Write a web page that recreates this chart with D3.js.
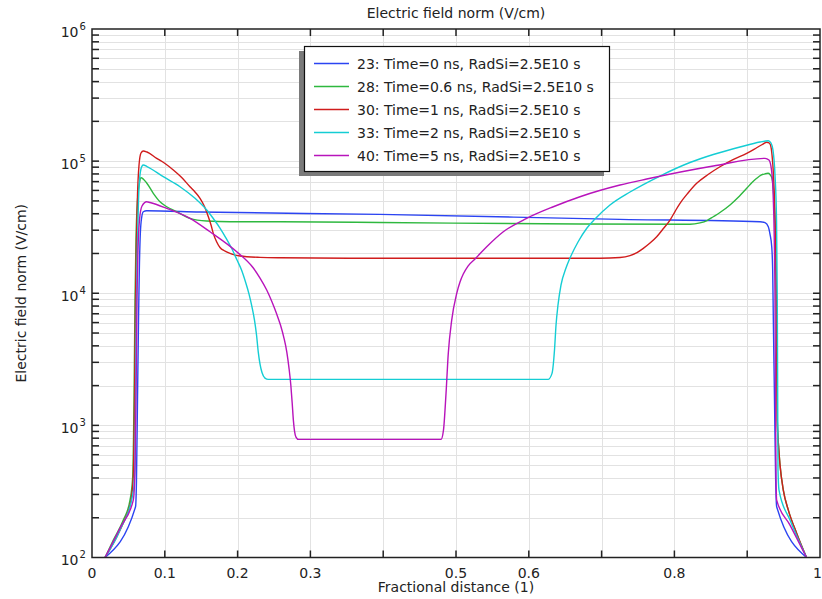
<!DOCTYPE html>
<html><head><meta charset="utf-8">
<script src="https://cdn.jsdelivr.net/npm/d3@7"></script>
<style>body{margin:0;background:#fff}svg{display:block}text{font-family:"DejaVu Sans",sans-serif;fill:#222}</style>
</head><body>
<svg id="c" width="822" height="599"></svg>
<script>
const title = "Electric field norm (V/cm)";
const xLabel = "Fractional distance (1)";
const yLabel = "Electric field norm (V/cm)";
const xTicks = [0,0.1,0.2,0.3,0.4,0.5,0.6,0.7,0.8,0.9,1];
const xTickLabels = [0,0.1,0.2,0.3,0.5,0.6,0.8,1];
const yDecades = [2,3,4,5,6];
const seriesNames = ["23: Time=0 ns, RadSi=2.5E10 s","28: Time=0.6 ns, RadSi=2.5E10 s","30: Time=1 ns, RadSi=2.5E10 s","33: Time=2 ns, RadSi=2.5E10 s","40: Time=5 ns, RadSi=2.5E10 s"];
const seriesColors = ["#2b44f2","#2eb83f","#d01c1c","#14cdd4","#b814bb"];

const s23 = [[0.0179,100],[0.0598,242],[0.0611,385],[0.0625,1555],[0.0639,6266],[0.0650,14985],[0.0663,27590],[0.0683,37740],[0.0705,41400],[0.0751,42120],[0.1484,41190],[0.3956,39560],[0.7253,36260],[0.9176,34760],[0.9245,34200],[0.9290,31870],[0.9313,28000],[0.9337,22490],[0.9350,14985],[0.9359,6266],[0.9375,1555],[0.9391,385],[0.9405,242],[0.9815,100]];
const s28 = [[0.0179,100],[0.0293,135.5],[0.0430,191.9],[0.0522,272],[0.0559,408],[0.0570,774],[0.0577,1555],[0.0584,3715],[0.0591,8883],[0.0604,25280],[0.0625,50770],[0.0652,68280],[0.0673,74880],[0.0751,68280],[0.0842,57070],[0.0934,49280],[0.1026,45160],[0.1163,41400],[0.1346,36900],[0.1576,35210],[0.1896,34760],[0.2582,34760],[0.3956,34290],[0.6703,33400],[0.8214,33280],[0.8352,34110],[0.8448,35510],[0.8534,37940],[0.8626,40830],[0.8764,46520],[0.8874,53030],[0.8993,62240],[0.9066,68870],[0.9130,74110],[0.9190,78260],[0.9245,80150],[0.9286,80850],[0.9313,79150],[0.9337,75130],[0.9354,65940],[0.9368,50770],[0.9382,32830],[0.9396,12590],[0.9405,3715],[0.9413,1096],[0.9430,709.6],[0.9451,500.6],[0.9496,324],[0.9565,228.5],[0.9680,152.2],[0.9815,100]];
const s30 = [[0.0179,100],[0.0316,135.5],[0.0446,191.9],[0.0536,272],[0.0567,408],[0.0577,774],[0.0584,1555],[0.0591,3715],[0.0598,8883],[0.0611,25280],[0.0625,55400],[0.0646,93430],[0.0673,115200],[0.0705,119300],[0.0755,117200],[0.0889,105000],[0.1003,95900],[0.1117,85620],[0.1232,75130],[0.1346,64010],[0.1415,58370],[0.1484,52300],[0.1545,45330],[0.1598,37940],[0.1635,32830],[0.1666,28400],[0.1710,24630],[0.1758,22180],[0.1827,20860],[0.1896,20040],[0.2033,19130],[0.2308,18700],[0.2582,18570],[0.3956,18380],[0.6978,18380],[0.7253,18640],[0.7390,19290],[0.7486,20330],[0.7573,21880],[0.7665,23990],[0.7757,26780],[0.7843,30620],[0.7940,35820],[0.8008,41550],[0.8077,47910],[0.8187,57350],[0.8306,67910],[0.8462,79150],[0.8626,90700],[0.8805,102800],[0.8993,114500],[0.9135,126800],[0.9217,134700],[0.9268,138800],[0.9299,137500],[0.9320,132400],[0.9341,111200],[0.9361,78500],[0.9382,39080],[0.9396,14985],[0.9405,3715],[0.9413,1096],[0.9430,709.6],[0.9451,500.6],[0.9496,324],[0.9565,228.5],[0.9680,152.2],[0.9815,100]];
const s33 = [[0.0179,100],[0.0385,161.2],[0.0570,324],[0.0591,546],[0.0598,1555],[0.0604,3715],[0.0611,8883],[0.0625,25280],[0.0639,50770],[0.0659,78500],[0.0687,91810],[0.0705,93430],[0.0755,91010],[0.0979,76210],[0.1209,64010],[0.1415,52300],[0.1576,42640],[0.1666,36770],[0.1758,31160],[0.1841,26170],[0.1923,21610],[0.1992,17840],[0.2054,14985],[0.2109,12160],[0.2157,9860],[0.2198,7862],[0.2232,6266],[0.2260,4827],[0.2284,3589],[0.2308,2911],[0.2335,2510],[0.2376,2280],[0.2422,2228],[0.6264,2228],[0.6319,2476],[0.6353,3715],[0.6374,5745],[0.6401,8144],[0.6442,11535],[0.6511,15520],[0.6566,18480],[0.6676,24420],[0.6799,31160],[0.6909,36450],[0.7115,46520],[0.7390,58370],[0.7802,77150],[0.8214,97590],[0.8534,112200],[0.8901,127900],[0.9176,139500],[0.9290,142700],[0.9327,137100],[0.9354,121300],[0.9382,78500],[0.9403,35820],[0.9413,8883],[0.9419,1555],[0.9423,459],[0.9437,324],[0.9588,191.9],[0.9815,100]];
const s40 = [[0.0179,100],[0.0385,167],[0.0567,272],[0.0591,459],[0.0604,1555],[0.0611,3715],[0.0618,8883],[0.0632,21230],[0.0652,35820],[0.0687,45730],[0.0751,49280],[0.0797,48610],[0.1026,43920],[0.1346,36900],[0.1621,29210],[0.1988,20610],[0.2216,15520],[0.2308,13030],[0.2400,10573],[0.2473,8580],[0.2537,6960],[0.2589,5745],[0.2637,4580],[0.2676,3589],[0.2706,2715],[0.2731,2019],[0.2750,1475],[0.2766,1096],[0.2782,905.3],[0.2802,815.4],[0.2837,783],[0.4794,783],[0.4828,921],[0.4863,1746],[0.4894,3508],[0.4941,6266],[0.5010,9982],[0.5055,12160],[0.5100,13970],[0.5165,16060],[0.5261,18150],[0.5422,22490],[0.5650,29210],[0.5971,36900],[0.6337,45160],[0.6703,53780],[0.7253,65940],[0.7620,73210],[0.8534,91810],[0.9245,105000],[0.9299,101900],[0.9334,85620],[0.9354,60420],[0.9372,25280],[0.9382,8883],[0.9389,1555],[0.9396,385],[0.9405,272],[0.9588,175.9],[0.9815,100]];
const seriesData = [s23, s28, s30, s33, s40];

const L = 92, R = 820, T = 29, B = 557.5;
const svg = d3.select("#c");
const x = d3.scaleLinear().domain([0,1]).range([L,R]);
const y = d3.scaleLog().domain([100,1e6]).range([B,T]);

const yGrid = [];
yDecades.slice(0,-1).forEach(k => { for (let j=1;j<=9;j++) yGrid.push(j*Math.pow(10,k)); });
yGrid.push(1e6);

const grid = svg.append("g").attr("stroke","#e2e2e2").attr("stroke-width",1);
grid.selectAll("line.v").data(xTicks.filter(v=>v>0&&v<1)).join("line")
  .attr("x1",d=>Math.round(x(d))+0.5).attr("x2",d=>Math.round(x(d))+0.5).attr("y1",T).attr("y2",B);
grid.selectAll("line.h").data(yGrid.filter(v=>v>100&&v<1e6)).join("line")
  .attr("x1",L).attr("x2",R).attr("y1",d=>Math.round(y(d))+0.5).attr("y2",d=>Math.round(y(d))+0.5);

svg.append("clipPath").attr("id","clip").append("rect").attr("x",L).attr("y",T).attr("width",R-L).attr("height",B-T);
const line = d3.line().x(d=>x(d[0])).y(d=>y(d[1])).curve(d3.curveMonotoneX);
const lg = svg.append("g").attr("clip-path","url(#clip)");
seriesData.forEach((s,i)=>{
  lg.append("path").attr("d",line(s)).attr("fill","none").attr("stroke",seriesColors[i]).attr("stroke-width",1.4).attr("stroke-linejoin","round");
});

const ax = svg.append("g").attr("stroke","#222").attr("stroke-width",1.5);
const tl = 7;
xTicks.filter(v=>v>0&&v<1).forEach(v=>{
  ax.append("line").attr("x1",x(v)).attr("x2",x(v)).attr("y1",B).attr("y2",B-tl);
  ax.append("line").attr("x1",x(v)).attr("x2",x(v)).attr("y1",T).attr("y2",T+tl);
});
yGrid.filter(v=>v>100&&v<1e6).forEach(v=>{
  ax.append("line").attr("x1",L).attr("x2",L+tl).attr("y1",y(v)).attr("y2",y(v));
  ax.append("line").attr("x1",R).attr("x2",R-tl).attr("y1",y(v)).attr("y2",y(v));
});
ax.append("rect").attr("x",L).attr("y",T).attr("width",R-L).attr("height",B-T).attr("fill","none");

svg.selectAll("text.xt").data(xTickLabels).join("text").attr("class","xt")
  .attr("x",d=>d===1?822:x(d)).attr("y",577.5).attr("text-anchor",d=>d===1?"end":"middle").attr("font-size",14).text(d=>String(d));
yDecades.forEach(k=>{
  const py = y(Math.pow(10,k));
  svg.append("text").attr("x",78.5).attr("y",py+7.5).attr("text-anchor","end").attr("font-size",14).text("10");
  svg.append("text").attr("x",79.5).attr("y",py+0.5).attr("text-anchor","start").attr("font-size",10).text(String(k));
});

svg.append("text").attr("x",(L+R)/2).attr("y",18).attr("text-anchor","middle").attr("font-size",14).text(title);
svg.append("text").attr("x",(L+R)/2).attr("y",592).attr("text-anchor","middle").attr("font-size",14).text(xLabel);
svg.append("text").attr("transform",`translate(26,${(T+B)/2}) rotate(-90)`).attr("text-anchor","middle").attr("font-size",14).text(yLabel);

const lx = 304, ly = 46, lw = 305, lh = 125;
svg.append("rect").attr("x",lx-5).attr("y",ly+5).attr("width",lw).attr("height",lh).attr("fill","#7a7a7a");
svg.append("rect").attr("x",lx+0.5).attr("y",ly+0.5).attr("width",lw).attr("height",lh).attr("fill","#fff").attr("stroke","#111").attr("stroke-width",1.2);
seriesNames.forEach((n,i)=>{
  const cy = 63.5 + i*23;
  svg.append("line").attr("x1",314).attr("x2",349).attr("y1",cy).attr("y2",cy).attr("stroke",seriesColors[i]).attr("stroke-width",1.4);
  svg.append("text").attr("x",357).attr("y",cy+5).attr("font-size",14).text(n);
});
</script>
</body></html>
